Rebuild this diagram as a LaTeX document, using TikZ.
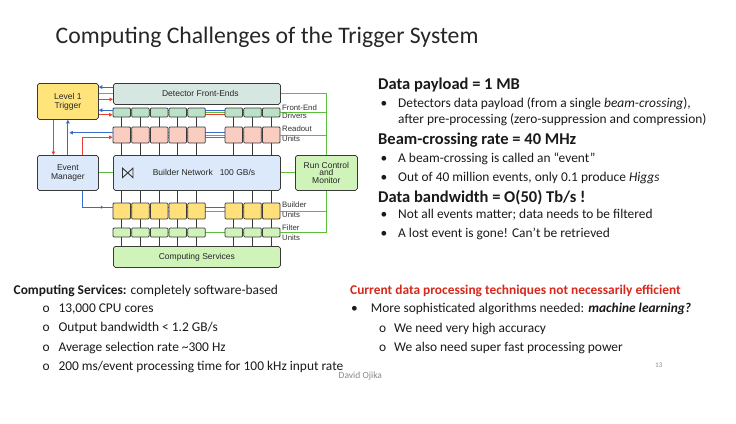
\documentclass[tikz,border=0pt]{standalone}
\usepackage{fontspec}
\setmainfont{Carlito}
\newfontfamily\arial{Liberation Sans}
\usetikzlibrary{arrows.meta,backgrounds,calc,decorations.markings}
\definecolor{cL1}{HTML}{FFE47C}
\definecolor{cDet}{HTML}{D6E6E1}
\definecolor{cDrv}{HTML}{BBE2C7}
\definecolor{cRO}{HTML}{F9CEC0}
\definecolor{cBlueBox}{HTML}{DCE9FB}
\definecolor{cGreenBox}{HTML}{D0F3BA}
\definecolor{cBU}{HTML}{FFE07A}
\definecolor{lblue}{HTML}{3A6BC9}
\definecolor{lred}{HTML}{E8403A}
\definecolor{lgreen}{HTML}{5DBE3C}
\definecolor{edge}{HTML}{3A3A3A}
\definecolor{txt}{HTML}{1A1A1A}
\definecolor{redhead}{HTML}{D8281C}
\definecolor{grey}{HTML}{8A8A8A}
\begin{document}
\begin{tikzpicture}[x=1pt,y=-1pt,
  box/.style={draw=edge, line width=0.75pt, rounded corners=1.8pt, inner sep=0pt,
    anchor=north west, align=center, text=black!85, font=\arial\fontsize{8.5}{9}\selectfont},
  cell/.style={draw=edge, line width=0.75pt, rounded corners=1pt, inner sep=0pt, minimum width=17.5pt},
  lab/.style={anchor=west, inner sep=0pt, text=black!80, font=\arial\fontsize{7.8}{8}\selectfont},
  bl/.style={draw=lblue, line width=0.9pt},
  rd/.style={draw=lred, line width=0.9pt},
  gr/.style={draw=lgreen, line width=0.9pt},
  blk/.style={draw=edge, line width=1pt},
  arr/.style={-{Triangle[length=3.5pt,width=3.5pt]}},
  body/.style={anchor=base west, inner sep=0pt, text=txt, font=\fontsize{13.4}{15}\selectfont},
  bighead/.style={anchor=base west, inner sep=0pt, text=txt, font=\fontsize{16.5}{18}\selectfont\bfseries},
  ttl/.style={anchor=base west, inner sep=0pt, text=black!85, font=\fontsize{23.7}{26}\selectfont},
  small/.style={anchor=base west, inner sep=0pt, text=grey, font=\fontsize{7}{8}\selectfont}
]
\useasboundingbox (0,0) rectangle (736,423);

% ---------- title ----------
\node[ttl] (title) at (55.5,43) {Computing Challenges of the Trigger System};

% ---------- big boxes ----------
\node[box, fill=cL1, minimum width=61pt, minimum height=36pt] (l1) at (37,83) {Level 1\\Trigger};
\node[box, fill=cDet, minimum width=167pt, minimum height=21pt] (det) at (113,83) {\hspace*{7pt}Detector Front-Ends};
\node[box, fill=cBlueBox, minimum width=61pt, minimum height=35pt] (em) at (37,155) {Event\\Manager};
\node[box, fill=cBlueBox, minimum width=167pt, minimum height=35pt] (bn) at (113,155) {};
\node[box, fill=cGreenBox, minimum width=62pt, minimum height=35pt, font=\arial\fontsize{8.5}{7.7}\selectfont] (rc) at (295,155) {Run Control\\and\\Monitor};
\node[box, fill=cGreenBox, minimum width=167pt, minimum height=21pt] (cs) at (113,246) {Computing Services};
\node[anchor=center, inner sep=0pt, text=black!85, font=\arial\fontsize{8.5}{9}\selectfont] (bntxt) at (204,172.5) {Builder Network\hspace{7pt}100 GB/s};
\draw[line width=0.9pt, draw=black!80, line join=miter] ($(bn.west)+(9.5,-4.75)$) -- ++(0,9.5) -- ++(10.5,-9.5) -- ++(0,9.5) -- cycle;

% ---------- small cells ----------
\foreach \i/\cx in {1/121.75,2/140.45,3/159.15,4/177.85,5/196.55,6/233.85,7/252.55,8/271.25}{
  \node[cell, fill=cDrv, minimum height=9pt] (d\i) at (\cx,112.5) {};
  \node[cell, fill=cRO, minimum height=16pt] (r\i) at (\cx,135) {};
  \node[cell, fill=cBU, minimum height=16pt] (b\i) at (\cx,211) {};
  \node[cell, fill=cGreenBox, minimum height=9pt] (f\i) at (\cx,232.5) {};
}

% ---------- row lines behind cells ----------
\begin{pgfonlayer}{background}
  \fill[white] (0,0) rectangle (736,423);
  \draw[bl] ([yshift=2.3pt]d1.center) -- ([yshift=2.3pt]d8.center);
  \draw[gr] (d1.center) -- (d8.center);
  \draw[rd] ([yshift=-2.3pt]d1.center) -- ([yshift=-2.3pt]d8.center);
  \draw[bl] ([yshift=2.3pt]r1.center) -- ([yshift=2.3pt]r8.center);
  \draw[gr] (r1.center) -- (r8.center);
  \draw[rd] ([yshift=-2.3pt]r1.center) -- ([yshift=-2.3pt]r8.center);
  \draw[bl] ([yshift=3.8pt]b1.center) -- ([yshift=3.8pt]b8.center);
  \draw[gr] (b1.center) -- (b8.center);
  \draw[gr] (f1.center) -- (f8.center);
\end{pgfonlayer}

% ---------- vertical black links ----------
\foreach \i in {1,...,8}{
  \draw[blk] (d\i.south) -- (r\i.north);
  \draw[blk] (r\i.south) -- (r\i.south |- bn.north);
  \draw[blk] (b\i.north |- bn.south) -- (b\i.north);
  \draw[blk] (b\i.south) -- (f\i.north);
  \draw[blk] (f\i.south) -- (f\i.south |- cs.north);
}

% ---------- L1 / detector / drivers ----------
\draw[bl,arr] ([yshift=6.8pt]det.west) -- ([yshift=6.8pt]det.west -| l1.east);
\draw[gr] (det.west) -- (det.west -| l1.east);
\draw[rd,arr] ([yshift=-5.5pt]det.west -| l1.east) -- ([yshift=-5.5pt]det.west);
\draw[bl,arr] ([yshift=2.3pt]d1.west) -- ([yshift=2.3pt]d1.west -| l1.east);
\draw[rd,arr] ([yshift=-2.3pt]d1.west -| l1.east) -- ([yshift=-2.3pt]d1.west);

% ---------- L1 / event manager / readout ----------
\draw[bl,arr] (em.north) -- (l1.south);
\draw[rd,arr] ([xshift=-14.5pt]l1.south) -- ([xshift=-14.5pt]em.north);
\draw[bl,arr] ([yshift=2.3pt]r1.west) -- ([yshift=2.3pt,xshift=1.5pt]r1.west -| em.north);
\draw[rd,arr] ([xshift=14.5pt]em.north) |- ([yshift=-2.3pt]r1.west);
\draw[gr] (em.east) -- (bn.west);
\draw[gr] (bn.east) -- (rc.west);
\draw[bl, postaction={decorate, decoration={markings, mark=at position 0.8 with {\arrow{Triangle[length=2.5pt,width=3.2pt]}}}}]
  ([xshift=14.5pt]em.south) |- ([yshift=3.8pt]b1.west);

% ---------- run control bus ----------
\draw[gr] (det.east) -- (det.east -| rc.north) -- (rc.north);
\draw[gr] (d8.east) -- (d8.east -| rc.north);
\draw[gr] (r8.east) -- (r8.east -| rc.north);
\draw[gr] (rc.south) |- (f8.east);
\draw[gr] (b8.east) -- (b8.east -| rc.south);

% ---------- side labels ----------
\node[lab] (lfe) at (282,107.7) {Front-End};
\node[lab] (ldrv) at (282,116) {Drivers};
\node[lab] (lro) at (282,129) {Readout};
\node[lab] (lru) at (282,139) {Units};
\node[lab] (lbu) at (282,205) {Builder};
\node[lab] (lbuu) at (282,215) {Units};
\node[lab] (lfu) at (282,228) {Filter};
\node[lab] (lfuu) at (282,237.5) {Units};

% ---------- right text ----------
\node[bighead] (t1) at (378,89) {Data payload = 1 MB};
\node[body] (b1m) at (380.5,107.6) {•};
\node[body] (t2) at (398,107.6) {Detectors data payload (from a single \textit{beam-crossing}),};
\node[body] (t3) at (398,123.4) {after pre-processing (zero-suppression and compression)};
\node[bighead] (t4) at (378,144) {Beam-crossing rate = 40 MHz};
\node[body] (b2m) at (380.5,162.6) {•};
\node[body] (t5) at (398,162.6) {A beam-crossing is called an “event”};
\node[body] (b3m) at (380.5,181) {•};
\node[body] (t6) at (398,181) {Out of 40 million events, only 0.1 produce \textit{Higgs}};
\node[bighead] (t7) at (378,202.5) {Data bandwidth = O(50) Tb/s !};
\node[body] (b4m) at (380.5,218.6) {•};
\node[body] (t8) at (398,218.6) {Not all events matter; data needs to be filtered};
\node[body] (b5m) at (380.5,237.6) {•};
\node[body] (t9) at (398,237.6) {A lost event is gone! Can’t be retrieved};

% ---------- bottom left text ----------
\node[body] (c0) at (13.5,294.3) {\textbf{Computing Services:} completely software-based};
\node[body] (o1) at (42.5,312.6) {o};
\node[body] (c1) at (58.3,312.6) {13,000 CPU cores};
\node[body] (o2) at (42.5,331.2) {o};
\node[body] (c2) at (58.3,331.2) {Output bandwidth < 1.2 GB/s};
\node[body] (o3) at (42.5,351) {o};
\node[body] (c3) at (58.3,351) {Average selection rate \textasciitilde300 Hz};
\node[body] (o4) at (42.5,370) {o};
\node[body] (c4) at (58.3,370) {200 ms/event processing time for 100 kHz input rate};

% ---------- bottom right text ----------
\node[body, text=redhead] (h2) at (350,294.3) {\textbf{Current data processing techniques not necessarily efficient}};
\node[body] (b6m) at (351,312.6) {•};
\node[body] (m1) at (370.7,312.6) {More sophisticated algorithms needed: \textbf{\textit{machine learning?}}};
\node[body] (o5) at (379,332.6) {o};
\node[body] (m2) at (394,332.6) {We need very high accuracy};
\node[body] (o6) at (379,351.6) {o};
\node[body] (m3) at (394,351.6) {We also need super fast processing power};

% ---------- footer ----------
\node[small, font=\fontsize{9.5}{10}\selectfont] (author) at (338.5,378.5) {David Ojika};
\node[small] (page) at (655,367.5) {13};
\end{tikzpicture}
\end{document}
